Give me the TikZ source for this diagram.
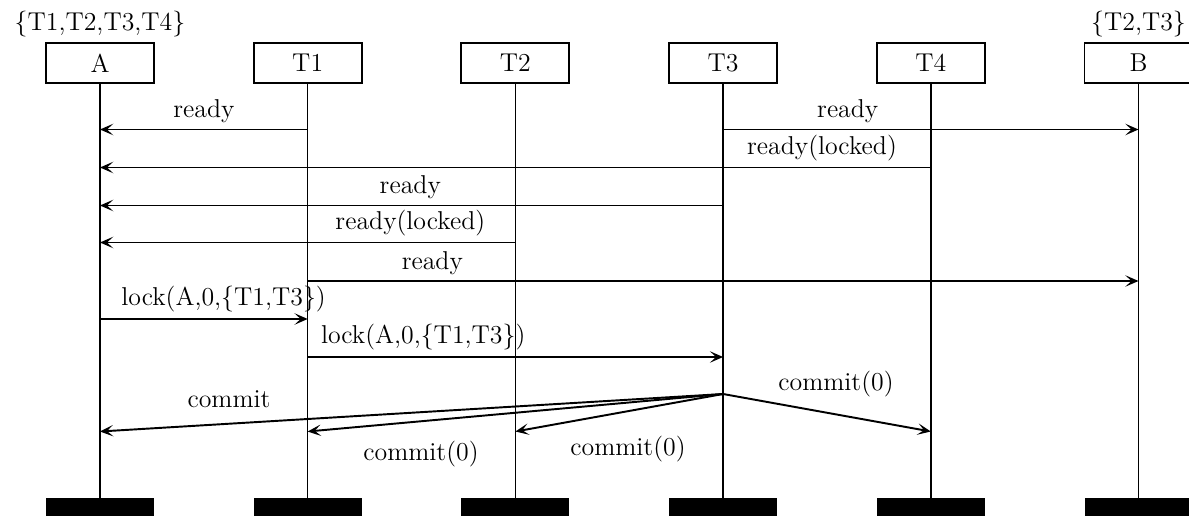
\documentclass[tikz,border=0pt]{standalone}
\usepackage{tikz}
\usetikzlibrary{arrows.meta,positioning}
\tikzset{
  proc/.style={rectangle,draw=black,fill=white,minimum width=2.16cm,
    minimum height=0.8cm,inner sep=0pt,line width=1.1pt},
  procend/.style={rectangle,fill=black,minimum width=2.16cm,
    minimum height=0.36cm,inner sep=0pt},
  lifeline/.style={line width=0.8pt},
  msg/.style={-{Stealth[length=7.5pt,width=6.5pt,inset=3.5pt]},line width=1.1pt},
  msglbl/.style={above,inner sep=3.2pt},
  setlbl/.style={inner sep=2.5pt},
}

\begin{document}
\begin{tikzpicture}[x=0.02cm,y=-0.02cm,font=\fontsize{14.7}{17.6}\selectfont]
  \useasboundingbox (0,0) rectangle (1189,516);
  % processes
  \node[proc] (A)  at (100,63)    {A};
  \node[proc] (T1) at (307.7,63)  {T1};
  \node[proc] (T2) at (515.4,63)  {T2};
  \node[proc] (T3) at (723.1,63)  {T3};
  \node[proc] (T4) at (930.8,63)  {T4};
  \node[proc] (B)  at (1138.5,63) {B};
  \node[setlbl,above=0pt of A] (sA) {\{T1,T2,T3,T4\}};
  \node[setlbl,above=0pt of B] (sB) {\{T2,T3\}};
  % ends of the lifelines
  \node[procend] (eA)  at (100,507)    {};
  \node[procend] (eT1) at (307.7,507)  {};
  \node[procend] (eT2) at (515.4,507)  {};
  \node[procend] (eT3) at (723.1,507)  {};
  \node[procend] (eT4) at (930.8,507)  {};
  \node[procend] (eB)  at (1138.5,507) {};
  \draw[lifeline] (A) -- (eA);
  \draw[lifeline] (T1) -- (eT1);
  \draw[lifeline] (T2) -- (eT2);
  \draw[lifeline] (T3) -- (eT3);
  \draw[lifeline] (T4) -- (eT4);
  \draw[lifeline] (B) -- (eB);
  % ready phase
  \draw[msg] (T1 |- 0,129.5) -- node[msglbl,pos=.5] (m1) {ready} (A |- 0,129.5);
  \draw[msg] (T3 |- 0,129.5) -- node[msglbl,pos=.3] (m2) {ready} (B |- 0,129.5);
  \draw[msg] (T4 |- 0,167.5) -- node[msglbl,pos=.131] (m3) {ready(locked)} (A |- 0,167.5);
  \draw[msg] (T3 |- 0,205.5) -- node[msglbl,pos=.502] (m4) {ready} (A |- 0,205.5);
  \draw[msg] (T2 |- 0,242.5) -- node[msglbl,pos=.253] (m5) {ready(locked)} (A |- 0,242.5);
  \draw[msg] (T1 |- 0,281) -- node[msglbl,pos=.15] (m6) {ready} (B |- 0,281);
  % lock phase
  \draw[msg] (A |- 0,319) -- node[msglbl,pos=.595] (m7) {lock(A,0,\{T1,T3\})} (T1 |- 0,319);
  \draw[msg] (T1 |- 0,357) -- node[msglbl,pos=.278] (m8) {lock(A,0,\{T1,T3\})} (T3 |- 0,357);
  % commit phase
  \coordinate (c0) at (T3 |- 0,394);
  \draw[msg] (c0) -- (A |- 0,431.5);
  \draw[msg] (c0) -- (T1 |- 0,431.5);
  \draw[msg] (c0) -- (T2 |- 0,431.5);
  \draw[msg] (c0) -- (T4 |- 0,431.5);
  \node[anchor=base] (k1) at (229,408) {commit};
  \node[anchor=base] (k2) at (421,460) {commit(0)};
  \node[anchor=base] (k3) at (628,456) {commit(0)};
  \node[anchor=base] (k4) at (836,391) {commit(0)};
\end{tikzpicture}
\end{document}
